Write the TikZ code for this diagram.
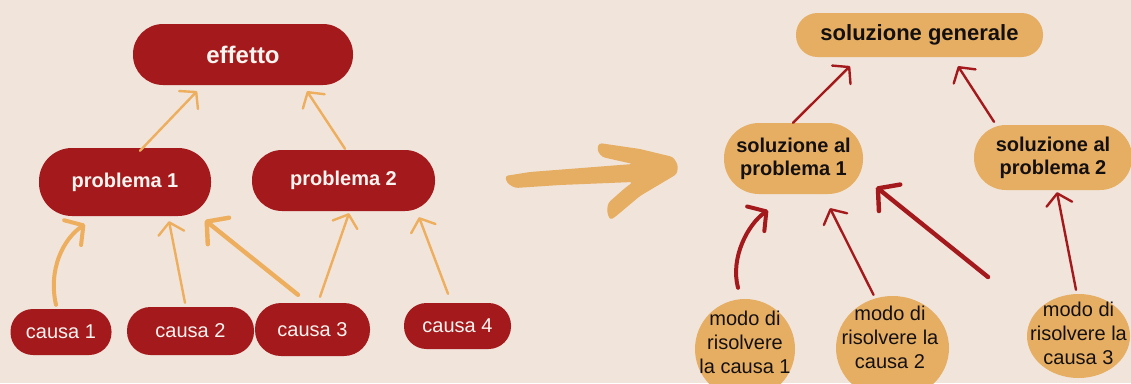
\documentclass[tikz,border=0pt]{standalone}
\usepackage{fontspec}
\setmainfont{Liberation Sans}
\usetikzlibrary{arrows.meta,shapes.geometric}
\definecolor{bgc}{HTML}{F1E4DB}
\definecolor{brick}{HTML}{A41A1C}
\definecolor{sand}{HTML}{E6AE63}
\definecolor{sandline}{HTML}{EDAE5E}
\definecolor{paper}{HTML}{FAF4F0}
\definecolor{ink}{HTML}{141010}

\tikzset{
  redbox/.style={rectangle, fill=brick, text=paper, inner sep=0pt},
  sandbox/.style={rectangle, fill=sand, text=ink, inner sep=0pt},
  sandblob/.style={ellipse, fill=sand, inner sep=0pt},
  blobtext/.style={text=ink, inner sep=0pt, align=center,
    font=\fontsize{20}{24}\selectfont},
  bigtext/.style={font=\bfseries\fontsize{24}{28}\selectfont},
  midtext/.style={font=\bfseries\fontsize{20}{23}\selectfont, align=center},
  plaintext/.style={font=\fontsize{20}{24}\selectfont},
  thinlink/.style={line width=2.4pt, line cap=round,
    -{Straight Barb[length=11pt,width=26pt,round]}},
  boldlink/.style={line width=4.4pt, line cap=round,
    -{Straight Barb[length=15pt,width=34pt,round]}},
  curvelink/.style={line width=4pt, line cap=round,
    -{Straight Barb[length=13pt,width=30pt,round]}},
}

\begin{document}
\begin{tikzpicture}[x=1pt,y=-1pt]
  % page and background
  \useasboundingbox (0,0) rectangle (1131,383);
  \clip (0,0) rectangle (1131,383);
  \fill[bgc] (0,0) rectangle (1131,383);

  % ---------- causes and problems ----------
  \node[redbox, bigtext, minimum width=220pt, minimum height=61pt, rounded corners=30pt]
    (eff) at (243,54.5) {effetto};
  \node[redbox, midtext, minimum width=172pt, minimum height=68pt, rounded corners=33pt]
    (p1) at (125,182) {problema 1};
  \node[redbox, midtext, minimum width=183pt, minimum height=61pt, rounded corners=30pt]
    (p2) at (343.5,180.5) {problema 2};
  \node[redbox, plaintext, minimum width=101pt, minimum height=46pt, rounded corners=22.5pt]
    (c1) at (61,332) {causa 1};
  \node[redbox, plaintext, minimum width=127pt, minimum height=48pt, rounded corners=23.5pt]
    (c2) at (190.5,331) {causa 2};
  \node[redbox, plaintext, minimum width=115pt, minimum height=53pt, rounded corners=26pt]
    (c3) at (312.5,329.5) {causa 3};
  \node[redbox, plaintext, minimum width=107pt, minimum height=46pt, rounded corners=22.5pt]
    (c4) at (457.5,326) {causa 4};

  \begin{scope}[draw=sandline]
    \draw[thinlink] ([shift={(15,3)}]p1.north) -- ([shift={(-46,6)}]eff.south);
    \draw[thinlink] ([shift={(1.5,-1)}]p2.north) -- ([shift={(64,6)}]eff.south);
    \draw[curvelink] ([shift={(-5,-4)}]c1.north) .. controls +(-8,-35) and +(-22,15) ..
      ([shift={(-40,8)}]p1.south);
    \draw[thinlink] ([shift={(-5.5,-4)}]c2.north) -- ([shift={(44,5)}]p1.south);
    \draw[boldlink] ([shift={(-14.5,-8)}]c3.north) -- ([shift={(80,4)}]p1.south);
    \draw[thinlink] ([shift={(7.5,-6)}]c3.north) -- ([shift={(5.5,2)}]p2.south);
    \draw[thinlink] ([shift={(-9.5,-9)}]c4.north) -- ([shift={(75.5,6)}]p2.south);
  \end{scope}

  % ---------- brush-stroke arrow in the middle ----------
  \fill[sand, rounded corners=3pt]
    (505,176) -- (530,172) -- (633,164) -- (602,157) -- (597,150) -- (599,143)
    -- (640,149) -- (673,157) -- (678,165) -- (677,174) -- (640,196) -- (615,217)
    -- (610,220) -- (607,212) -- (608,203) -- (625,188) -- (633,182) -- (560,185)
    -- (515,188) -- (507,183) -- cycle;

  % ---------- solutions ----------
  \node[sandbox, font=\bfseries\fontsize{22}{26}\selectfont,
    minimum width=247pt, minimum height=44pt, rounded corners=21.5pt]
    (sg) at (919.5,35) {soluzione generale};
  \node[sandbox, midtext, minimum width=139pt, minimum height=71pt, rounded corners=35pt]
    (sp1) at (793.5,158.5) {soluzione al\\problema 1};
  \node[sandbox, midtext, minimum width=158pt, minimum height=65pt, rounded corners=32pt]
    (sp2) at (1053,157.5) {soluzione al\\problema 2};

  \node[sandblob, minimum width=100pt, minimum height=100pt] (m1) at (745,349) {};
  \node[sandblob, minimum width=113pt, minimum height=104pt] (m2) at (892.5,348) {};
  \node[sandblob, minimum width=103pt, minimum height=84pt] (m3) at (1078.5,336) {};
  \node[blobtext] (m1t) at (745,342) {modo di\\risolvere\\la causa 1};
  \node[blobtext] (m2t) at (890,337) {modo di\\risolvere la\\causa 2};
  \node[blobtext] (m3t) at (1078.5,333) {modo di\\risolvere la\\causa 3};

  \coordinate (loose) at (988,277);

  \begin{scope}[draw=brick]
    \draw[thinlink] ([shift={(-0.5,0)}]sp1.north) -- ([shift={(-69.5,9)}]sg.south);
    \draw[thinlink] ([shift={(-59,-3)}]sp2.north) -- ([shift={(38.5,9)}]sg.south);
    \draw[curvelink] ([shift={(-7,-11)}]m1.north) .. controls +(-8,-30) and +(-20,14) ..
      ([shift={(-25.5,16)}]sp1.south);
    \draw[thinlink] ([shift={(-19,-1)}]m2.north) -- ([shift={(36.5,14)}]sp1.south);
    \draw[boldlink] (loose) -- ([shift={(13,28.5)}]sp1.east);
    \draw[thinlink] ([shift={(-2.5,-4)}]m3.north) -- ([shift={(4,2)}]sp2.south);
  \end{scope}
\end{tikzpicture}
\end{document}
